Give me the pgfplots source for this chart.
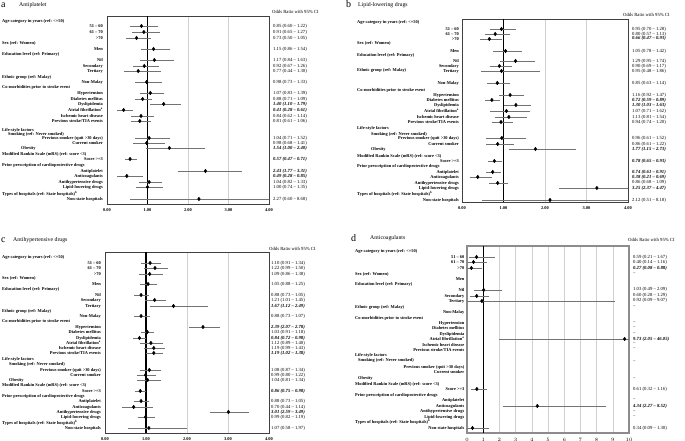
\documentclass[border=0pt]{standalone}
\usepackage{pgfplots}
\usepackage{pgfplotstable}
\pgfplotsset{compat=1.18}
\usepackage{fontspec}
\setmainfont{Liberation Serif}

\newcommand{\lbfont}{\fontsize{4.4}{4.4}\selectfont\bfseries}
\newcommand{\cifont}{\fontsize{4.7}{4.7}\selectfont}
\tikzset{
  lbl/.style={font=\lbfont, inner sep=0pt},
  cil/.style={font=\cifont, inner sep=0pt},
  cilb/.style={font=\cifont\bfseries\itshape, inner sep=0pt},
}
\newcommand{\lb}[2]{\node[lbl,anchor=east] at ([xshift=-\LX]axis cs:0,#1) {#2};}
\newcommand{\hd}[3]{\node[lbl,anchor=west] at ([xshift=#1]axis cs:0,#2) {#3};}
\newcommand{\ci}[2]{\node[cil,anchor=west] at ([xshift=\CX]axis cs:\XM,#1) {#2};}
\newcommand{\cib}[2]{\node[cilb,anchor=west] at ([xshift=\CX]axis cs:\XM,#1) {#2};}

\pgfplotsset{forest/.style={
  scale only axis, anchor=south west, y dir=reverse, xmin=0,
  clip mode=individual,
  axis line style={draw=black!75, line width=0.7pt},
  ytick=\empty, major tick length=0pt,
  xmajorgrids, grid style={black!18, line width=0.6pt},
  extra x ticks={1}, extra x tick labels={},
  extra x tick style={major grid style={black, line width=1.1pt}},
  xticklabel style={font=\fontsize{4.4}{4.4}\selectfont\bfseries, yshift=-1.5pt},
}}
\pgfplotsset{fp/.style={only marks, mark=diamond*, mark size=1.8pt, black,
  mark options={black, fill=black},
  error bars/.cd, x dir=both, x explicit,
  error bar style={black!55, line width=0.5pt},
  error mark options={black!55, mark size=1.1pt, line width=0.5pt}}}

\pgfplotstableread{
y est lo hi
26 0.85 0.60 1.22
32 0.91 0.65 1.27
38 0.73 0.50 1.05
49 1.15 0.86 1.54
60 1.17 0.84 1.63
66 0.92 0.67 1.26
71 0.77 0.44 1.30
82 0.98 0.73 1.33
93 1.07 0.83 1.39
99 0.88 0.71 1.09
104 1.40 1.10 1.79
110 0.41 0.28 0.61
116 0.84 0.62 1.14
121 0.81 0.61 1.06
138 1.04 0.71 1.52
143 0.98 0.68 1.41
148 1.54 1.00 2.40
159 0.57 0.47 0.71
171 2.43 1.77 3.31
176 0.49 0.28 0.85
182 1.04 0.82 1.33
187 1.00 0.74 1.35
199 2.27 0.60 8.68
}\tA

\pgfplotstableread{
y est lo hi
29 0.95 0.70 1.28
34 0.80 0.57 1.13
39 0.66 0.47 0.93
51 1.05 0.78 1.42
61 1.29 0.95 1.74
66 0.90 0.69 1.17
71 0.95 0.48 1.86
83 0.85 0.63 1.14
95 1.16 0.92 1.47
100 0.72 0.59 0.89
105 1.30 1.03 1.63
111 1.07 0.71 1.62
117 1.13 0.81 1.54
122 0.94 0.74 1.20
138 0.96 0.61 1.52
144 0.86 0.61 1.22
149 1.77 1.15 2.73
161 0.78 0.65 0.93
172 0.74 0.61 0.91
177 0.38 0.21 0.69
183 0.86 0.68 1.09
188 3.25 2.37 4.47
200 2.12 0.51 8.18
}\tB

\pgfplotstableread{
y est lo hi
263 1.10 0.91 1.34
268 1.22 0.99 1.50
274 1.09 0.86 1.38
284 1.05 0.88 1.25
295 0.88 0.73 1.05
300 1.21 1.01 1.45
306 1.67 1.12 2.49
316 0.88 0.73 1.07
327 2.39 2.07 2.78
332 1.03 0.91 1.18
338 0.84 0.72 0.98
343 1.12 0.89 1.40
348 1.19 0.99 1.43
353 1.19 1.02 1.38
370 1.08 0.87 1.34
375 0.99 0.80 1.22
380 1.04 0.81 1.34
391 0.86 0.75 0.98
401 0.88 0.73 1.05
407 0.70 0.44 1.14
412 3.01 2.59 3.49
417 0.99 0.82 1.19
428 1.07 0.58 1.97
}\tC

\pgfplotstableread{
y est lo hi
257 0.59 0.21 1.67
262 0.40 0.14 1.16
268 0.27 0.08 0.88
290 1.03 0.49 2.09
296 0.60 0.28 1.29
301 0.92 0.09 9.07
339 9.73 2.05 46.05
389 0.61 0.32 1.16
406 4.34 2.27 8.52
428 0.34 0.09 1.30
}\tD

\begin{document}
\begin{tikzpicture}[x=1pt,y=1pt]
\path[use as bounding box] (0,0) rectangle (685,441);

% titles
\node[anchor=west, inner sep=0pt, font=\fontsize{10}{10}\selectfont] at (1,436) {a};
\node[anchor=west, inner sep=0pt, font=\fontsize{5.8}{5.8}\selectfont] at (19,436) {Antiplatelet};
\node[anchor=west, inner sep=0pt, font=\fontsize{10}{10}\selectfont] at (346,437) {b};
\node[anchor=west, inner sep=0pt, font=\fontsize{5.8}{5.8}\selectfont] at (358,436) {Lipid-lowering drugs};
\node[anchor=west, inner sep=0pt, font=\fontsize{10}{10}\selectfont] at (1,201) {c};
\node[anchor=west, inner sep=0pt, font=\fontsize{5.8}{5.8}\selectfont] at (13,201) {Antihypertensive drugs};
\node[anchor=west, inner sep=0pt, font=\fontsize{10}{10}\selectfont] at (351,203) {d};
\node[anchor=west, inner sep=0pt, font=\fontsize{5.8}{5.8}\selectfont] at (370,203) {Anticoagulants};
\node[anchor=west, inner sep=0pt, font=\fontsize{4.7}{4.7}\selectfont] at (272,429) {Odds Ratio with 95\% CI};
\node[anchor=west, inner sep=0pt, font=\fontsize{4.7}{4.7}\selectfont] at (623,426) {Odds Ratio with 95\% CI};
\node[anchor=west, inner sep=0pt, font=\fontsize{4.7}{4.7}\selectfont] at (269,192) {Odds Ratio with 95\% CI};
\node[anchor=west, inner sep=0pt, font=\fontsize{4.7}{4.7}\selectfont] at (628,201) {Odds Ratio with 95\% CI};

% ---------------- panel a
\def\XM{4}\def\CX{4pt}\def\LX{4pt}
\begin{axis}[forest, at={(107pt,237pt)}, width=162pt, height=188pt,
  xmax=4, ymin=16, ymax=204, xtick={0,1,2,3,4}, xticklabels={0.00,1.00,2.00,3.00,4.00}]
\addplot[fp] table[x=est, y=y, x error plus expr=\thisrow{hi}-\thisrow{est}, x error minus expr=\thisrow{est}-\thisrow{lo}] {\tA};
\hd{-105pt}{21}{Age category in years (ref: <=50)}
\lb{26}{51 -- 60}
\lb{32}{61 -- 70}
\lb{38}{>70}
\hd{-105pt}{43}{Sex (ref: Women)}
\lb{49}{Men}
\hd{-105pt}{54}{Education level (ref: Primary)}
\lb{60}{Nil}
\lb{66}{Secondary}
\lb{71}{Tertiary}
\hd{-105pt}{77}{Ethnic group (ref: Malay)}
\lb{82}{Non-Malay}
\hd{-105pt}{87}{Co-morbidities prior to stroke event}
\lb{93}{Hypertension}
\lb{99}{Diabetes mellitus}
\lb{104}{Dyslipidemia}
\lb{110}{Atrial fibrillation\textsuperscript{a}}
\lb{116}{Ischemic heart disease}
\lb{121}{Previous stroke/TIA events}
\hd{-105pt}{130}{Life-style factors}
\hd{-99pt}{134.5}{Smoking (ref: Never smoked)}
\lb{138.5}{Previous smoker (quit >30 days)}
\lb{143.5}{Current smoker}
\hd{-86pt}{148}{Obesity}
\hd{-105pt}{154.5}{Modified Rankin Scale (mRS) (ref: score <3)}
\lb{159}{Score >=3}
\hd{-105pt}{165}{Prior prescription of cardioprotective drugs}
\lb{171}{Antiplatelet}
\lb{176}{Anticoagulants}
\lb{182}{Antihypertensive drugs}
\lb{187}{Lipid-lowering drugs}
\hd{-105pt}{193.5}{Types of hospitals (ref: State hospitals)\textsuperscript{b}}
\lb{199}{Non-state hospitals}
\ci{26}{0.85 (0.60 -- 1.22)}
\ci{32}{0.91 (0.65 -- 1.27)}
\ci{38}{0.73 (0.50 -- 1.05)}
\ci{49}{1.15 (0.86 -- 1.54)}
\ci{60}{1.17 (0.84 -- 1.63)}
\ci{66}{0.92 (0.67 -- 1.26)}
\ci{71}{0.77 (0.44 -- 1.30)}
\ci{82}{0.98 (0.73 -- 1.33)}
\ci{93}{1.07 (0.83 -- 1.39)}
\ci{99}{0.88 (0.71 -- 1.09)}
\cib{104}{1.40 (1.10 -- 1.79)}
\cib{110}{0.41 (0.28 -- 0.61)}
\ci{116}{0.84 (0.62 -- 1.14)}
\ci{121}{0.81 (0.61 -- 1.06)}
\ci{138}{1.04 (0.71 -- 1.52)}
\ci{143}{0.98 (0.68 -- 1.41)}
\cib{148}{1.54 (1.00 -- 2.40)}
\cib{159}{0.57 (0.47 -- 0.71)}
\cib{171}{2.43 (1.77 -- 3.31)}
\cib{176}{0.49 (0.28 -- 0.85)}
\ci{182}{1.04 (0.82 -- 1.33)}
\ci{187}{1.00 (0.74 -- 1.35)}
\ci{199}{2.27 (0.60 -- 8.68)}
\end{axis}

% ---------------- panel b
\def\XM{4}\def\CX{4pt}\def\LX{3pt}
\begin{axis}[forest, at={(462pt,239pt)}, width=166pt, height=183pt,
  xmax=4, ymin=19, ymax=202, xtick={0,1,2,3,4}, xticklabels={0.00,1.00,2.00,3.00,4.00}]
\addplot[fp] table[x=est, y=y, x error plus expr=\thisrow{hi}-\thisrow{est}, x error minus expr=\thisrow{est}-\thisrow{lo}] {\tB};
\hd{-105pt}{22}{Age category in years (ref: <=50)}
\lb{29}{51 -- 60}
\lb{34}{61 -- 70}
\lb{39}{>70}
\hd{-105pt}{43}{Sex (ref: Women)}
\lb{51}{Men}
\hd{-105pt}{55}{Education level (ref: Primary)}
\lb{61}{Nil}
\lb{66}{Secondary}
\lb{71}{Tertiary}
\hd{-105pt}{70}{Ethnic group (ref: Malay)}
\lb{83}{Non-Malay}
\hd{-105pt}{90}{Co-morbidities prior to stroke event}
\lb{95}{Hypertension}
\lb{100}{Diabetes mellitus}
\lb{105}{Dyslipidemia}
\lb{111}{Atrial fibrillation\textsuperscript{a}}
\lb{117}{Ischemic heart disease}
\lb{122}{Previous stroke/TIA events}
\hd{-105pt}{128}{Life-style factors}
\hd{-91pt}{134}{Smoking (ref: Never smoked)}
\lb{138}{Previous smoker (quit >30 days)}
\lb{144}{Current smoker}
\hd{-91pt}{149}{Obesity}
\hd{-105pt}{156.5}{Modified Rankin Scale (mRS) (ref: score <3)}
\lb{161}{Score >=3}
\hd{-105pt}{166.5}{Prior prescription of cardioprotective drugs}
\lb{172}{Antiplatelet}
\lb{177}{Anticoagulants}
\lb{183}{Antihypertensive drugs}
\lb{188}{Lipid-lowering drugs}
\hd{-105pt}{193.5}{Types of hospitals (ref: State hospitals)\textsuperscript{b}}
\lb{200}{Non-state hospitals}
\ci{29}{0.95 (0.70 -- 1.28)}
\ci{34}{0.80 (0.57 -- 1.13)}
\cib{38.5}{0.66 (0.47 -- 0.93)}
\ci{51}{1.05 (0.78 -- 1.42)}
\ci{61}{1.29 (0.95 -- 1.74)}
\ci{66}{0.90 (0.69 -- 1.17)}
\ci{71}{0.95 (0.48 -- 1.86)}
\ci{83}{0.85 (0.63 -- 1.14)}
\ci{95}{1.16 (0.92 -- 1.47)}
\cib{100}{0.72 (0.59 -- 0.89)}
\cib{105}{1.30 (1.03 -- 1.63)}
\ci{111.5}{1.07 (0.71 -- 1.62)}
\ci{117}{1.13 (0.81 -- 1.54)}
\ci{122}{0.94 (0.74 -- 1.20)}
\ci{138.5}{0.96 (0.61 -- 1.52)}
\ci{144}{0.86 (0.61 -- 1.22)}
\cib{149}{1.77 (1.15 -- 2.73)}
\cib{161}{0.78 (0.65 -- 0.93)}
\cib{172}{0.74 (0.61 -- 0.91)}
\cib{177}{0.38 (0.21 -- 0.69)}
\ci{182.5}{0.86 (0.68 -- 1.09)}
\cib{188}{3.25 (2.37 -- 4.47)}
\ci{200}{2.12 (0.51 -- 8.18)}
\end{axis}

% ---------------- panel c
\def\XM{4}\def\CX{2pt}\def\LX{4pt}
\begin{axis}[forest, at={(105pt,8pt)}, width=164pt, height=181pt,
  xmax=4, ymin=252, ymax=433, xtick={0,1,2,3,4}, xticklabels={0.00,1.00,2.00,3.00,4.00}]
\addplot[fp] table[x=est, y=y, x error plus expr=\thisrow{hi}-\thisrow{est}, x error minus expr=\thisrow{est}-\thisrow{lo}] {\tC};
\hd{-103pt}{257}{Age category in years (ref: <=50)}
\lb{263}{51 -- 60}
\lb{268}{61 -- 70}
\lb{274}{>70}
\hd{-103pt}{278.5}{Sex (ref: Women)}
\lb{284}{Men}
\hd{-103pt}{289.5}{Education level (ref: Primary)}
\lb{295}{Nil}
\lb{300}{Secondary}
\lb{306}{Tertiary}
\hd{-103pt}{311}{Ethnic group (ref: Malay)}
\lb{316}{Non-Malay}
\hd{-103pt}{321.5}{Co-morbidities prior to stroke event}
\lb{327}{Hypertension}
\lb{332}{Diabetes mellitus}
\lb{338}{Dyslipidemia}
\lb{343}{Atrial fibrillation\textsuperscript{a}}
\lb{348}{Ischemic heart disease}
\lb{353}{Previous stroke/TIA events}
\hd{-103pt}{359}{Life-style factors}
\hd{-96pt}{364}{Smoking (ref: Never smoked)}
\lb{370}{Previous smoker (quit >30 days)}
\lb{375}{Current smoker}
\hd{-96pt}{380}{Obesity}
\hd{-103pt}{385.5}{Modified Rankin Scale (mRS) (ref: score <3)}
\lb{391}{Score >=3}
\hd{-103pt}{396}{Prior prescription of cardioprotective drugs}
\lb{401}{Antiplatelet}
\lb{407}{Anticoagulants}
\lb{412}{Antihypertensive drugs}
\lb{417}{Lipid-lowering drugs}
\hd{-103pt}{422.5}{Types of hospitals (ref: State hospitals)\textsuperscript{b}}
\lb{428}{Non-state hospitals}
\ci{263}{1.10 (0.91 -- 1.34)}
\ci{268}{1.22 (0.99 -- 1.50)}
\ci{274}{1.09 (0.86 -- 1.38)}
\ci{284}{1.05 (0.88 -- 1.25)}
\ci{295}{0.88 (0.73 -- 1.05)}
\ci{300}{1.21 (1.01 -- 1.45)}
\cib{306}{1.67 (1.12 -- 2.49)}
\ci{316}{0.88 (0.73 -- 1.07)}
\cib{327}{2.39 (2.07 -- 2.78)}
\ci{332}{1.03 (0.91 -- 1.18)}
\cib{338}{0.84 (0.72 -- 0.98)}
\ci{343}{1.12 (0.89 -- 1.40)}
\ci{348}{1.19 (0.99 -- 1.43)}
\cib{353}{1.19 (1.02 -- 1.38)}
\ci{370}{1.08 (0.87 -- 1.34)}
\ci{375}{0.99 (0.80 -- 1.22)}
\ci{380}{1.04 (0.81 -- 1.34)}
\cib{391}{0.86 (0.75 -- 0.98)}
\ci{401}{0.88 (0.73 -- 1.05)}
\ci{407}{0.70 (0.44 -- 1.14)}
\cib{412}{3.01 (2.59 -- 3.49)}
\ci{417}{0.99 (0.82 -- 1.19)}
\ci{428}{1.07 (0.58 -- 1.97)}
\end{axis}

% ---------------- panel d
\def\XM{10}\def\CX{4pt}\def\LX{2.5pt}
\begin{axis}[forest, at={(467pt,8pt)}, width=162pt, height=187pt,
  xmax=10, ymin=246, ymax=433, xtick={0,1,...,10},
  axis line style={draw=black!45, line width=1.3pt}]
\addplot[fp] table[x=est, y=y, x error plus expr=\thisrow{hi}-\thisrow{est}, x error minus expr=\thisrow{est}-\thisrow{lo}] {\tD};
\hd{-112pt}{251}{Age category in years (ref: <=50)}
\lb{257}{51 -- 60}
\lb{262}{61 -- 70}
\lb{268}{>70}
\hd{-112pt}{274}{Sex (ref: Women)}
\lb{279}{Men}
\hd{-112pt}{284.5}{Education level (ref: Primary)}
\lb{290}{Nil}
\lb{296}{Secondary}
\lb{301}{Tertiary}
\hd{-112pt}{307}{Ethnic group (ref: Malay)}
\lb{312}{Non-Malay}
\hd{-112pt}{318}{Co-morbidities prior to stroke event}
\lb{323}{Hypertension}
\lb{328}{Diabetes mellitus}
\lb{334}{Dyslipidemia}
\lb{339}{Atrial fibrillation\textsuperscript{a}}
\lb{345}{Ischemic heart disease}
\lb{350.5}{Previous stroke/TIA events}
\hd{-112pt}{355}{Life-style factors}
\hd{-109pt}{360}{Smoking (ref: Never smoked)}
\lb{367}{Previous smoker (quit >30 days)}
\lb{372}{Current smoker}
\hd{-109pt}{378}{Obesity}
\hd{-112pt}{384}{Modified Rankin Scale (mRS) (ref: score <3)}
\lb{389}{Score >=3}
\hd{-112pt}{395}{Prior prescription of cardioprotective drugs}
\lb{400}{Antiplatelet}
\lb{406}{Anticoagulants}
\lb{411}{Antihypertensive drugs}
\lb{417}{Lipid-lowering drugs}
\hd{-112pt}{422}{Types of hospitals (ref: State hospitals)\textsuperscript{b}}
\lb{428}{Non-state hospitals}
\ci{257}{0.59 (0.21 -- 1.67)}
\ci{262}{0.40 (0.14 -- 1.16)}
\cib{268}{0.27 (0.08 -- 0.88)}
\ci{274}{--}
\ci{289.5}{1.03 (0.49 -- 2.09)}
\ci{295}{0.60 (0.28 -- 1.29)}
\ci{300.5}{0.92 (0.09 -- 9.07)}
\ci{307}{--}
\ci{323}{--}
\ci{328}{--}
\ci{334}{--}
\cib{339}{9.73 (2.05 -- 46.05)}
\ci{344}{--}
\ci{349}{--}
\ci{362}{--}
\ci{379}{--}
\ci{389}{0.61 (0.32 -- 1.16)}
\ci{400}{--}
\cib{406}{4.34 (2.27 -- 8.52)}
\ci{412}{--}
\ci{417}{--}
\ci{428}{0.34 (0.09 -- 1.30)}
\end{axis}
\end{tikzpicture}
\end{document}
